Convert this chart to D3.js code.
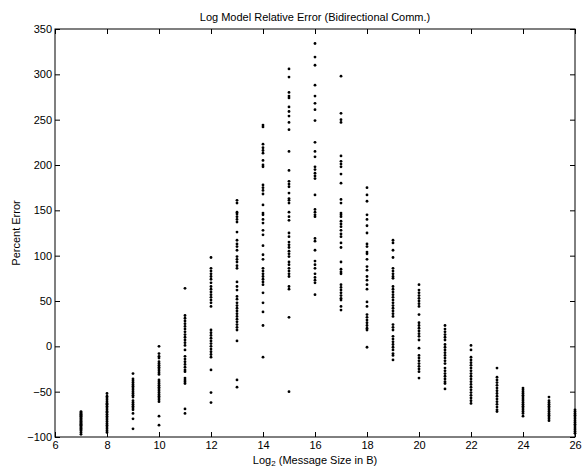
<!DOCTYPE html>
<html>
<head>
<meta charset="utf-8">
<script src="https://cdn.jsdelivr.net/npm/d3@7"></script>
<style>
  html, body { margin: 0; padding: 0; background: #fff; }
  svg { display: block; font-family: "Liberation Sans", Arial, Helvetica, sans-serif; }
</style>
</head>
<body>
<svg id="chart" width="582" height="469"></svg>
<script>
// ---- data ----
const title = "Log Model Relative Error (Bidirectional Comm.)";
const yLabel = "Percent Error";
const xTicks = [6, 8, 10, 12, 14, 16, 18, 20, 22, 24, 26];
const yTicks = [-100, -50, 0, 50, 100, 150, 200, 250, 300, 350];
const sizes = [7, 8, 9, 10, 11, 12, 13, 14, 15, 16, 17, 18, 19, 20, 21, 22, 23, 24, 25, 26];

const e07 = [-72,-73,-74,-75,-76,-77,-78,-79,-80,-81,-82,-83,-84,-85,-86,-87,-88,-89,-90,-91,-92,-93,-95,-97];
const e08 = [-52,-55,-57,-59,-61,-63,-64,-66,-68,-70,-72,-73,-75,-77,-79,-81,-83,-85,-87,-89,-91,-93,-95];
const e09 = [-30,-36,-38,-40,-42,-44,-46,-48,-50,-52,-54,-56,-60,-62,-64,-66,-68,-70,-74,-80,-91];
const e10 = [0,-8,-11,-13,-17,-19,-21,-23,-25,-27,-29,-31,-37,-39,-41,-43,-45,-47,-49,-51,-53,-55,-57,-59,-61,-77,-87];
const e11 = [64,34,31,28,25,22,19,16,13,10,7,4,1,-4,-11,-14,-17,-20,-23,-26,-28,-35,-37,-39,-41,-69,-74];
const e12 = [98,86,83,80,77,74,70,66,63,60,57,54,51,48,44,18,15,12,9,6,3,0,-3,-6,-9,-12,-26,-51,-62];
const e13 = [161,158,148,146,143,140,137,126,117,113,110,106,99,96,93,89,86,71,66,62,55,52,48,45,42,39,36,33,30,27,24,21,18,6,-37,-45];
const e14 = [244,242,223,219,216,213,205,200,198,178,175,172,168,156,147,145,140,136,128,123,111,101,96,86,83,80,77,74,71,68,59,48,38,23,-12];
const e15 = [306,297,280,276,274,264,259,254,247,239,215,194,182,179,176,169,163,161,158,148,143,139,125,121,115,112,109,105,102,99,93,90,86,83,80,77,66,63,32,-50];
const e16 = [334,319,310,288,276,268,261,249,225,215,209,198,195,191,188,185,167,151,148,145,143,119,116,106,94,90,86,80,76,73,70,57];
const e17 = [298,257,250,247,210,204,201,198,190,180,162,158,147,145,143,138,135,132,128,124,121,114,109,93,85,82,80,68,65,62,59,56,53,51,44,40];
const e18 = [175,167,160,145,140,133,125,113,110,104,102,96,88,84,77,73,68,63,49,44,35,32,29,26,23,20,18,-1];
const e19 = [117,114,106,98,86,83,80,77,75,66,63,60,57,54,51,48,45,42,39,36,33,24,21,18,11,8,5,2,-1,-4,-8,-10,-15];
const e20 = [68,62,59,56,53,50,47,44,35,26,23,20,17,14,11,7,-2,-10,-13,-16,-19,-22,-25,-28,-35];
const e21 = [23,19,16,13,10,7,2,-1,-4,-7,-10,-13,-16,-19,-24,-27,-30,-33,-36,-39,-41,-47];
const e22 = [1,-4,-12,-15,-18,-21,-24,-27,-30,-33,-36,-39,-42,-45,-48,-51,-54,-57,-60,-63];
const e23 = [-24,-34,-37,-40,-43,-46,-49,-52,-55,-58,-61,-64,-67,-70,-72];
const e24 = [-46,-48,-50,-52,-54,-56,-58,-60,-62,-64,-66,-68,-70,-72,-74,-77];
const e25 = [-56,-60,-62,-64,-66,-68,-70,-72,-74,-76,-78,-80,-82];
const e26 = [-70,-72,-74,-76,-78,-80,-82,-84,-86,-88,-90,-92,-94,-96];

const errorColumns = [e07,e08,e09,e10,e11,e12,e13,e14,e15,e16,e17,e18,e19,e20,e21,e22,e23,e24,e25,e26];
const points = [];
sizes.forEach((s, i) => errorColumns[i].forEach(v => points.push({x: s, y: v})));

// ---- layout ----
const L = 55, R = 575, T = 29, B = 437;
const svg = d3.select("#chart");
svg.append("rect").attr("width", 582).attr("height", 469).attr("fill", "#fff");

const x = d3.scaleLinear().domain([6, 26]).range([L, R]);
const y = d3.scaleLinear().domain([-100, 350]).range([B, T]);

const tickLen = 5;
const fontSize = 11;

// points
svg.append("g").selectAll("circle").data(points).join("circle")
  .attr("cx", d => x(d.x)).attr("cy", d => y(d.y))
  .attr("r", 1.4).attr("fill", "#000");

// axes
const axB = svg.append("g").attr("transform", `translate(0,${B})`)
  .call(d3.axisBottom(x).tickValues(xTicks).tickSizeInner(-tickLen).tickSizeOuter(0).tickPadding(4));
const axT = svg.append("g").attr("transform", `translate(0,${T})`)
  .call(d3.axisTop(x).tickValues(xTicks).tickSizeInner(-tickLen).tickSizeOuter(0).tickFormat(""));
const axL = svg.append("g").attr("transform", `translate(${L},0)`)
  .call(d3.axisLeft(y).tickValues(yTicks).tickSizeInner(-tickLen).tickSizeOuter(0).tickPadding(3)
    .tickFormat(d => d < 0 ? "\u2212" + Math.abs(d) : String(d)));
const axR = svg.append("g").attr("transform", `translate(${R},0)`)
  .call(d3.axisRight(y).tickValues(yTicks).tickSizeInner(-tickLen).tickSizeOuter(0).tickFormat(""));

[axB, axT, axL, axR].forEach(g => {
  g.select(".domain").remove();
  g.selectAll("line").attr("stroke", "#000").attr("stroke-width", 1);
  g.selectAll("text").attr("fill", "#000").style("font-size", fontSize + "px")
    .style("font-family", "'Liberation Sans', Arial, sans-serif");
});

// box
svg.append("rect").attr("x", L).attr("y", T).attr("width", R - L).attr("height", B - T)
  .attr("fill", "none").attr("stroke", "#000").attr("stroke-width", 1);

// title
svg.append("text").attr("x", (L + R) / 2).attr("y", 21).attr("text-anchor", "middle")
  .style("font-size", fontSize + "px").text(title);

// x label with subscript
const xl = svg.append("text").attr("x", (L + R) / 2).attr("y", 464).attr("text-anchor", "middle")
  .style("font-size", fontSize + "px");
xl.append("tspan").text("Log");
xl.append("tspan").attr("baseline-shift", "-25%").style("font-size", "8px").text("2");
xl.append("tspan").text(" (Message Size in B)");

// y label
svg.append("text").attr("transform", `translate(20,${(T + B) / 2}) rotate(-90)`)
  .attr("text-anchor", "middle").style("font-size", fontSize + "px").text(yLabel);
</script>
</body>
</html>
